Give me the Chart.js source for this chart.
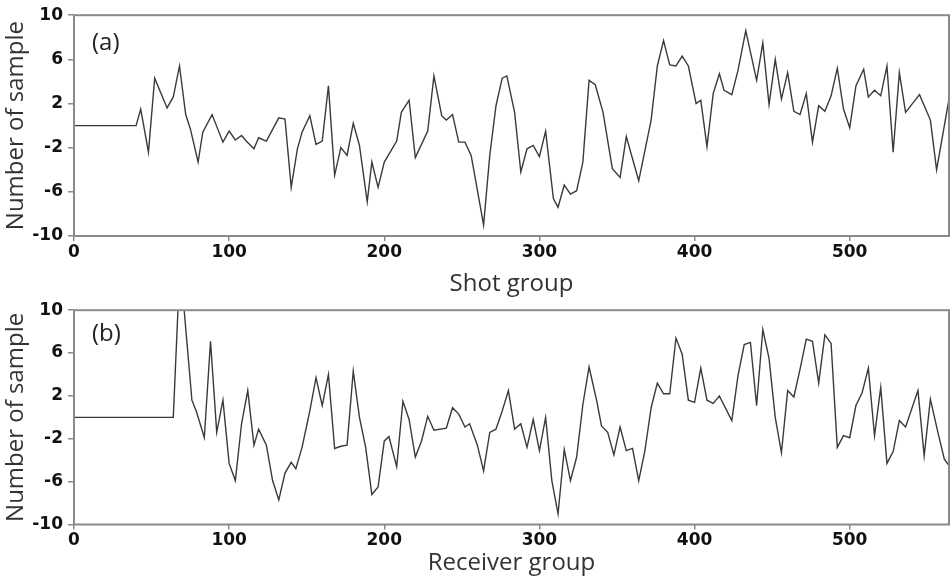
<!DOCTYPE html>
<html>
<head>
<meta charset="utf-8">
<script src="https://cdn.jsdelivr.net/npm/chart.js@4.4.1/dist/chart.umd.min.js"></script>
<style>
  html, body { margin: 0; padding: 0; background: #fff; }
  #wrap { position: relative; width: 951px; height: 584px; }
  canvas { position: absolute; left: 0; }
  #chartA { top: 0; }
  #chartB { top: 295px; }
</style>
</head>
<body>
<div id="wrap">
  <canvas id="chartA" width="951" height="305"></canvas>
  <canvas id="chartB" width="951" height="289"></canvas>
</div>
<script>
// values
const shotX = [0, 40, 43, 48, 52, 60, 64, 68, 72, 75, 80, 83, 89, 96, 100, 104, 108, 111, 116, 119, 124, 132, 136,
  140, 144, 147, 152, 156, 160, 164, 168, 172, 176, 180, 184, 189, 192, 196, 200, 208, 211, 216, 220, 228, 232, 237,
  240, 244, 248, 252, 256, 264, 268, 272, 276, 279, 284, 288, 292, 296, 300, 304, 309, 312, 316, 320, 324, 328, 332,
  336, 341, 347, 352, 356, 364, 372, 376, 380, 384, 388, 392, 396, 401, 404, 408, 412, 416, 419, 424, 428, 433, 440,
  444, 448, 452, 456, 460, 464, 468, 472, 476, 480, 484, 488, 492, 496, 500, 504, 509, 512, 516, 520, 524, 528, 532,
  536, 545, 552, 556, 564];
const shotY = [0, 0, 1.5, -2.4, 4.3, 1.6, 2.6, 5.4, 1.0, -0.3, -3.3, -0.6, 1.0, -1.5, -0.5, -1.3, -0.9, -1.4, -2.1, -1.1, -1.4, 0.7, 0.6,
  -5.6, -2.1, -0.6, 0.9, -1.7, -1.4, 3.6, -4.5, -2.0, -2.7, 0.2, -1.8, -6.9, -3.3, -5.6, -3.3, -1.4, 1.2, 2.3, -2.9, -0.5, 4.5, 0.9,
  0.5, 1.0, -1.5, -1.5, -2.7, -9.0, -2.7, 1.8, 4.3, 4.5, 1.2, -4.2, -2.1, -1.8, -2.8, -0.5, -6.6, -7.4, -5.4, -6.2, -5.9, -3.3, 4.1,
  3.7, 1.2, -3.9, -4.7, -1.0, -5.0, 0.5, 5.4, 7.7, 5.5, 5.4, 6.3, 5.4, 2.0, 2.3, -1.9, 2.9, 4.7, 3.2, 2.8, 5.0, 8.6, 4.1,
  7.5, 1.9, 6.0, 2.4, 4.8, 1.3, 1.0, 2.9, -1.5, 1.8, 1.3, 2.7, 5.2, 1.5, -0.2, 3.6, 5.1, 2.6, 3.2, 2.7, 5.4, -2.4, 4.8,
  1.2, 2.8, 0.5, -4.0, 2.4];

const recvX = [0, 64, 67, 71, 76, 79, 84, 88, 92, 96, 100, 104, 108, 112, 116, 119, 124, 128, 132, 136, 140, 143, 147,
  152, 156, 160, 164, 168, 172, 176, 180, 184, 188, 192, 196, 200, 203, 208, 212, 216, 220, 224, 228, 232, 240, 244,
  248, 252, 255, 260, 264, 268, 272, 276, 280, 284, 288, 292, 296, 300, 304, 308, 312, 316, 320, 324, 328, 332, 337,
  340, 344, 348, 352, 356, 360, 364, 368, 372, 376, 380, 384, 388, 392, 396, 400, 404, 408, 412, 416, 424, 428, 432,
  436, 440, 444, 448, 452, 456, 460, 464, 468, 472, 476, 480, 484, 488, 492, 496, 500, 504, 508, 512, 516, 520, 524,
  528, 532, 536, 540, 544, 548, 552, 557, 561, 564];
const recvY = [0, 0, 10, 10, 1.6, 0.5, -1.9, 7.1, -1.4, 1.6, -4.3, -5.9, -0.6, 2.5, -2.6, -1.1, -2.6, -5.9, -7.7, -5.2, -4.2, -4.8, -2.8,
  0.6, 3.7, 1.1, 4.0, -2.9, -2.7, -2.6, 4.3, 0.0, -2.8, -7.2, -6.5, -2.2, -1.8, -4.6, 1.5, -0.2, -3.7, -2.2, 0.1, -1.2, -1.0, 0.9,
  0.3, -0.9, -0.6, -2.6, -5.0, -1.4, -1.1, 0.6, 2.5, -1.1, -0.6, -2.8, -0.2, -3.1, 0.0, -5.9, -9.0, -3.0, -5.9, -3.7, 1.2, 4.7, 1.5,
  -0.8, -1.4, -3.5, -0.9, -3.1, -2.9, -5.9, -3.1, 0.9, 3.2, 2.2, 2.2, 7.4, 5.9, 1.6, 1.4, 4.6, 1.6, 1.3, 2.0, -0.3, 3.9, 6.8,
  7.0, 1.1, 8.2, 5.5, 0.0, -3.3, 2.5, 1.9, 4.5, 7.3, 7.1, 3.2, 7.7, 6.9, -2.8, -1.7, -1.9, 1.1, 2.3, 4.6, -1.7, 2.8, -4.3,
  -3.2, -0.3, -0.9, 0.8, 2.5, -3.6, 1.7, -1.5, -3.9, -4.5];

const yTicks = [-10, -6, -2, 2, 6, 10];
const xMax = 564;

const frameColor = '#8a8a8a';
const tickFont = { family: 'DejaVu Sans', weight: 'bold', size: 17 };
const titleFont = { family: 'Open Sans', size: 24 };

// box round the plot area
const framePlugin = {
  id: 'frame',
  afterDatasetsDraw(chart) {
    const { ctx, chartArea: a } = chart;
    ctx.save();
    ctx.strokeStyle = frameColor;
    ctx.lineWidth = 2;
    ctx.strokeRect(a.left, a.top, a.right - a.left, a.bottom - a.top);
    ctx.restore();
  }
};

// "(a)" / "(b)" inside the plot
const tagPlugin = {
  id: 'tag',
  afterDraw(chart, args, opts) {
    const { ctx, chartArea: a } = chart;
    ctx.save();
    ctx.font = '24px "Open Sans"';
    ctx.fillStyle = '#222';
    ctx.textBaseline = 'alphabetic';
    ctx.fillText(opts.text, a.left + 18, opts.y);
    ctx.restore();
  }
};

function renderPanel(id, xs, ys, xTitle, tag, lay) {
  const points = xs.map((x, i) => ({ x: x, y: ys[i] }));
  new Chart(document.getElementById(id), {
    type: 'line',
    data: {
      datasets: [{
        data: points,
        borderColor: '#3a3a3a',
        borderWidth: 1.4,
        pointRadius: 0,
        tension: 0,
        fill: false
      }]
    },
    options: {
      responsive: false,
      animation: false,
      layout: { padding: { top: lay.top, right: 2, bottom: 0, left: 0 } },
      plugins: {
        legend: { display: false },
        tooltip: { enabled: false },
        tag: { text: tag, y: lay.tagY }
      },
      scales: {
        x: {
          type: 'linear',
          min: 0,
          max: xMax,
          afterFit: s => { s.height = lay.xh; },
          ticks: { stepSize: 100, includeBounds: false, padding: 1, color: '#111', font: tickFont, maxRotation: 0 },
          grid: { drawOnChartArea: false, tickLength: 5, color: frameColor, lineWidth: 1.5 },
          border: { display: false },
          title: { display: true, text: xTitle, color: '#333', font: titleFont, padding: { top: 0, bottom: 6 } }
        },
        y: {
          min: yTicks[0],
          max: yTicks[yTicks.length - 1],
          afterFit: s => { s.width = 74; },
          afterBuildTicks: s => { s.ticks = yTicks.map(v => ({ value: v })); },
          ticks: { padding: 5, color: '#111', font: tickFont },
          grid: { drawOnChartArea: false, tickLength: 6, color: frameColor, lineWidth: 1.5 },
          border: { display: false },
          title: { display: true, text: 'Number of sample', color: '#333', font: titleFont, padding: { top: 2, bottom: 0 } }
        }
      }
    },
    plugins: [framePlugin, tagPlugin]
  });
}

renderPanel('chartA', shotX, shotY, 'Shot group', '(a)', { top: 14, xh: 69, tagY: 50 });
renderPanel('chartB', recvX, recvY, 'Receiver group', '(b)', { top: 12, xh: 59.5, tagY: 46 });
</script>
</body>
</html>
